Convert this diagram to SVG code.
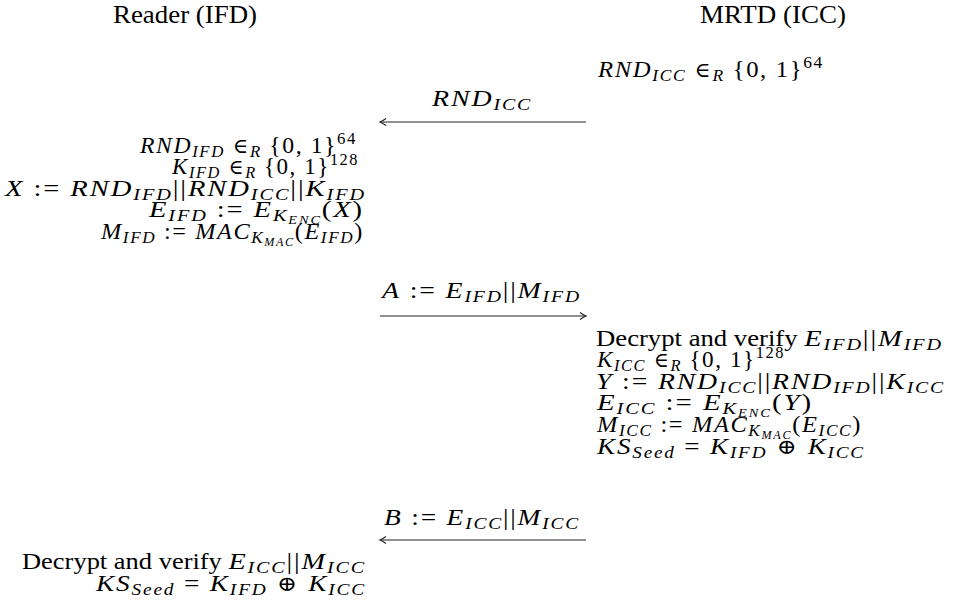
<svg xmlns="http://www.w3.org/2000/svg" width="954" height="610" viewBox="0 0 954 610">
<defs>
<style>
text{font-family:"Liberation Serif","DejaVu Serif",serif;fill:#000}
.h{font-size:25px}
.m{font-size:24px;font-style:italic;letter-spacing:1.6px}
.r{font-style:normal}
.t{letter-spacing:0;font-size:22.5px}
.s{font-size:17px}
.ss{font-size:12px}
.o{font-family:"DejaVu Sans ExtraLight","DejaVu Sans Light","DejaVu Serif",serif;font-weight:200;font-style:normal;font-size:21px}
.ln{stroke:#222;stroke-width:1.1;fill:none}
</style>
<marker id="ah" viewBox="-8 -5 10 10" markerWidth="10" markerHeight="10" refX="0" refY="0" orient="auto" markerUnits="userSpaceOnUse">
<path d="M-6,-3.5 Q-2,-0.6 0,0 Q-2,0.6 -6,3.5" stroke="#222" stroke-width="1.1" fill="none"/>
</marker>
</defs>
<rect width="954" height="610" fill="#fff"/>

<g id="header-ifd"><text class="h" x="113" y="23" textLength="144" lengthAdjust="spacingAndGlyphs">Reader (IFD)</text></g>
<g id="header-icc"><text class="h" x="700" y="23" textLength="146" lengthAdjust="spacingAndGlyphs">MRTD (ICC)</text></g>

<g id="icc-nonce"><text class="m" x="598" y="77" textLength="226" lengthAdjust="spacingAndGlyphs">RND<tspan class="s" dy="4">ICC</tspan><tspan class="o" dy="-4"> ∈</tspan><tspan class="s" dy="4">R</tspan><tspan class="r" dy="-4"> {0, 1}</tspan><tspan class="r s" dy="-9">64</tspan></text></g>

<g id="ifd-compute">
<text class="m" x="140" y="153" textLength="217" lengthAdjust="spacingAndGlyphs">RND<tspan class="s" dy="4">IFD</tspan><tspan class="o" dy="-4"> ∈</tspan><tspan class="s" dy="4">R</tspan><tspan class="r" dy="-4"> {0, 1}</tspan><tspan class="r s" dy="-9">64</tspan></text>
<text class="m" x="172" y="174" textLength="187" lengthAdjust="spacingAndGlyphs">K<tspan class="s" dy="4">IFD</tspan><tspan class="o" dy="-4"> ∈</tspan><tspan class="s" dy="4">R</tspan><tspan class="r" dy="-4"> {0, 1}</tspan><tspan class="r s" dy="-9">128</tspan></text>
<text class="m" x="5" y="196" textLength="361" lengthAdjust="spacingAndGlyphs">X<tspan class="r"> := </tspan>RND<tspan class="s" dy="4">IFD</tspan><tspan class="r" dy="-4">||</tspan>RND<tspan class="s" dy="4">ICC</tspan><tspan class="r" dy="-4">||</tspan>K<tspan class="s" dy="4">IFD</tspan></text>
<text class="m" x="149" y="217" textLength="215" lengthAdjust="spacingAndGlyphs">E<tspan class="s" dy="4">IFD</tspan><tspan class="r" dy="-4"> := </tspan>E<tspan class="s" dy="4">K</tspan><tspan class="ss" dy="3">ENC</tspan><tspan class="r" dy="-7">(</tspan>X<tspan class="r">)</tspan></text>
<text class="m" x="101" y="239" textLength="263" lengthAdjust="spacingAndGlyphs">M<tspan class="s" dy="4">IFD</tspan><tspan class="r" dy="-4"> := </tspan>MAC<tspan class="s" dy="4">K</tspan><tspan class="ss" dy="3">MAC</tspan><tspan class="r" dy="-7">(</tspan>E<tspan class="s" dy="4">IFD</tspan><tspan class="r" dy="-4">)</tspan></text>
</g>

<g id="icc-compute">
<text class="m" x="596" y="346" textLength="347" lengthAdjust="spacingAndGlyphs"><tspan class="r t">Decrypt and verify </tspan>E<tspan class="s" dy="4">IFD</tspan><tspan class="r" dy="-4">||</tspan>M<tspan class="s" dy="4">IFD</tspan></text>
<text class="m" x="597" y="367" textLength="188" lengthAdjust="spacingAndGlyphs">K<tspan class="s" dy="4">ICC</tspan><tspan class="o" dy="-4"> ∈</tspan><tspan class="s" dy="4">R</tspan><tspan class="r" dy="-4"> {0, 1}</tspan><tspan class="r s" dy="-9">128</tspan></text>
<text class="m" x="596" y="389" textLength="349" lengthAdjust="spacingAndGlyphs">Y<tspan class="r"> := </tspan>RND<tspan class="s" dy="4">ICC</tspan><tspan class="r" dy="-4">||</tspan>RND<tspan class="s" dy="4">IFD</tspan><tspan class="r" dy="-4">||</tspan>K<tspan class="s" dy="4">ICC</tspan></text>
<text class="m" x="597" y="410" textLength="216" lengthAdjust="spacingAndGlyphs">E<tspan class="s" dy="4">ICC</tspan><tspan class="r" dy="-4"> := </tspan>E<tspan class="s" dy="4">K</tspan><tspan class="ss" dy="3">ENC</tspan><tspan class="r" dy="-7">(</tspan>Y<tspan class="r">)</tspan></text>
<text class="m" x="597" y="432" textLength="265" lengthAdjust="spacingAndGlyphs">M<tspan class="s" dy="4">ICC</tspan><tspan class="r" dy="-4"> := </tspan>MAC<tspan class="s" dy="4">K</tspan><tspan class="ss" dy="3">MAC</tspan><tspan class="r" dy="-7">(</tspan>E<tspan class="s" dy="4">ICC</tspan><tspan class="r" dy="-4">)</tspan></text>
<text class="m" x="597" y="454" textLength="268" lengthAdjust="spacingAndGlyphs">KS<tspan class="s" dy="4">Seed</tspan><tspan class="r" dy="-4"> = </tspan>K<tspan class="s" dy="4">IFD</tspan><tspan class="o" dy="-4"> ⊕ </tspan>K<tspan class="s" dy="4">ICC</tspan></text>
</g>

<g id="ifd-final">
<text class="m" x="22" y="569" textLength="344" lengthAdjust="spacingAndGlyphs"><tspan class="r t">Decrypt and verify </tspan>E<tspan class="s" dy="4">ICC</tspan><tspan class="r" dy="-4">||</tspan>M<tspan class="s" dy="4">ICC</tspan></text>
<text class="m" x="96" y="591" textLength="270" lengthAdjust="spacingAndGlyphs">KS<tspan class="s" dy="4">Seed</tspan><tspan class="r" dy="-4"> = </tspan>K<tspan class="s" dy="4">IFD</tspan><tspan class="o" dy="-4"> ⊕ </tspan>K<tspan class="s" dy="4">ICC</tspan></text>
</g>

<g id="connectors">
<g id="msg-rnd-icc">
<line class="ln" x1="586" y1="122" x2="380" y2="122" marker-end="url(#ah)"/>
<text class="m" x="432" y="106" textLength="100" lengthAdjust="spacingAndGlyphs">RND<tspan class="s" dy="4">ICC</tspan></text>
</g>
<g id="msg-a">
<line class="ln" x1="380" y1="316" x2="586" y2="316" marker-end="url(#ah)"/>
<text class="m" x="382" y="298" textLength="199" lengthAdjust="spacingAndGlyphs">A<tspan class="r"> := </tspan>E<tspan class="s" dy="4">IFD</tspan><tspan class="r" dy="-4">||</tspan>M<tspan class="s" dy="4">IFD</tspan></text>
</g>
<g id="msg-b">
<line class="ln" x1="586" y1="540" x2="380" y2="540" marker-end="url(#ah)"/>
<text class="m" x="384" y="525" textLength="196" lengthAdjust="spacingAndGlyphs">B<tspan class="r"> := </tspan>E<tspan class="s" dy="4">ICC</tspan><tspan class="r" dy="-4">||</tspan>M<tspan class="s" dy="4">ICC</tspan></text>
</g>
</g>
</svg>
